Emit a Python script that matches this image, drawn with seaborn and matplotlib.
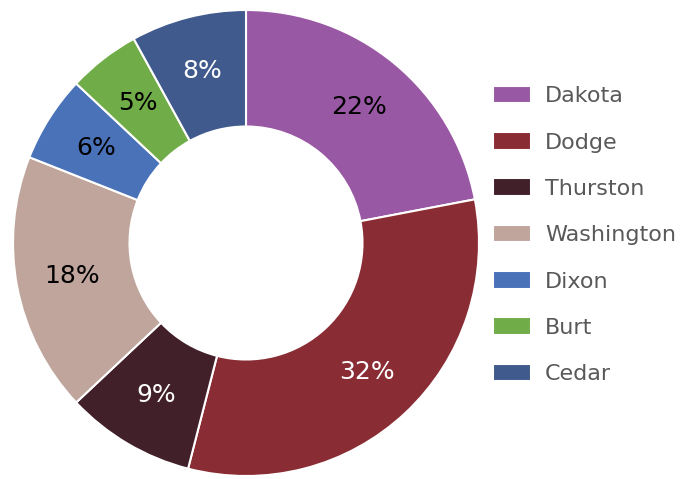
import matplotlib
matplotlib.use("Agg")
import matplotlib.pyplot as plt
import seaborn as sns

# county shares (percent)
counties = ["Dakota", "Dodge", "Thurston", "Washington", "Dixon", "Burt", "Cedar"]
shares = [22, 32, 9, 18, 6, 5, 8]
colors = ["#9958A3", "#8A2C33", "#412029", "#BFA59C", "#4A72B9", "#70AC47", "#405A8D"]
label_colors = ["black", "white", "white", "black", "black", "black", "white"]

sns.set_theme(style="white")
plt.rcParams['font.family'] = ['DejaVu Sans']

fig = plt.figure(figsize=(6.98, 4.79), dpi=100)
ax = fig.add_axes([13/698, 2/479, 466/698, 468/479])

wedges, texts, autotexts = ax.pie(
    shares, colors=colors, startangle=90, counterclock=False,
    radius=1, autopct="%d%%", pctdistance=0.76,
    wedgeprops=dict(width=0.5, edgecolor="white", linewidth=1.5),
    textprops=dict(fontsize=18),
)
for t, c in zip(autotexts, label_colors):
    t.set_color(c)
ax.set_xlim(-1, 1)
ax.set_ylim(-1, 1)
ax.set_aspect("equal")
ax.axis("off")

leg = fig.legend(wedges, counties, loc="center left", bbox_to_anchor=(493/698, 1 - 235/479),
                 frameon=False, fontsize=16, handlelength=1.71, handleheight=0.85,
                 labelspacing=1.16, handletextpad=0.63, borderpad=0, borderaxespad=0)
for t in leg.get_texts():
    t.set_color("#595959")

fig.savefig("out.png", dpi=100)
